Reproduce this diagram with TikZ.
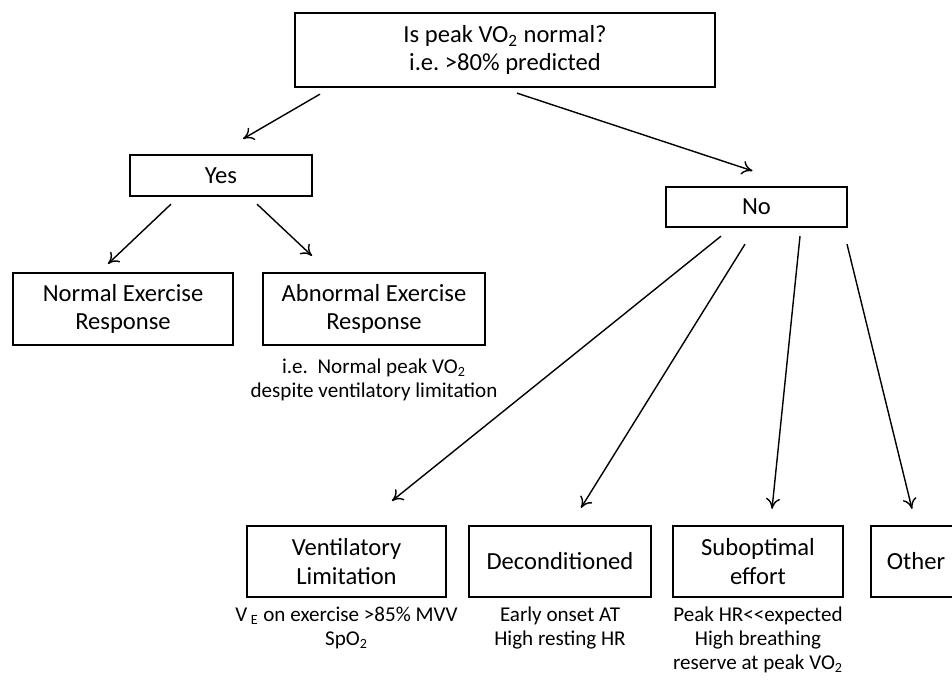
\documentclass[tikz,border=0pt]{standalone}
\usepackage{fontspec}
\setmainfont{Carlito}
\usepackage{tikz}
\usetikzlibrary{arrows.meta,positioning,calc}

\tikzset{
	box/.style={draw, line width=1.3pt, inner sep=0pt, align=center, font=\fontsize{14}{16}\selectfont},
	note/.style={inner sep=0pt, align=center, font=\fontsize{12}{13.6}\selectfont},
	arr/.style={-{To[length=6pt,width=8pt]}, line width=0.8pt}
}

\begin{document}
\begin{tikzpicture}[x=0.02cm, y=-0.02cm]
	\useasboundingbox (0,0) rectangle (952,680);
	%\draw[help lines,step=50] (0,0) grid (952,680);

	\node[box, minimum width=8.4cm, minimum height=1.48cm] (top) at (505,50) {Is peak VO\textsubscript{2} normal?\\i.e.\ >80\% predicted};

	\node[box, minimum width=3.64cm, minimum height=0.82cm] (yes) at (221,175.5) {Yes};
	\node[box, minimum width=3.62cm, minimum height=0.8cm] (no) at (756.5,207) {No};

	\node[box, minimum width=4.4cm, minimum height=1.44cm] (normal) at (123,309) {Normal Exercise\\Response};
	\node[box, minimum width=4.44cm, minimum height=1.44cm] (abnormal) at (374,309) {Abnormal Exercise\\Response};
	\node[note, below=7pt of abnormal] (abnnote) {i.e.\ \ Normal peak VO\textsubscript{2}\\despite ventilatory limitation};

	\node[box, minimum width=3.98cm, minimum height=1.42cm] (vent) at (346.5,561.5) {Ventilatory\\Limitation};
	\node[box, minimum width=3.64cm, minimum height=1.42cm] (decond) at (560,561.5) {Deconditioned};
	\node[box, minimum width=3.4cm, minimum height=1.42cm] (subopt) at (758,561.5) {Suboptimal\\effort};
	\node[box, minimum width=1.8cm, minimum height=1.42cm] (other) at (916,561.5) {Other};

	\node[note, below=5pt of vent] (ventnote) {V\,\textsubscript{E} on exercise >85\% MVV\\SpO\textsubscript{2}};
	\node[note, below=5pt of decond] (decondnote) {Early onset AT\\High resting HR};
	\node[note, below=5pt of subopt] (suboptnote) {Peak HR<{}<expected\\High breathing\\reserve at peak VO\textsubscript{2}};

	% first split
	\draw[arr] ($(top.south)+(-185,6)$) -- ($(yes.north)+(22,-15)$);
	\draw[arr] ($(top.south)+(12,5)$) -- ($(no.north)+(-4,-15)$);

	% yes branch
	\draw[arr] ($(yes.south)+(-50,7)$) -- ($(normal.north)+(-15,-8)$);
	\draw[arr] ($(yes.south)+(36,7)$) -- ($(abnormal.north)+(-62,-16)$);

	% no branch
	\draw[arr] ($(no.south)+(-35.5,8)$) -- ($(vent.north)+(45.5,-24)$);
	\draw[arr] ($(no.south)+(-11.5,16)$) -- ($(decond.north)+(21,-17)$);
	\draw[arr] ($(no.south)+(43.5,8)$) -- ($(subopt.north)+(14,-16)$);
	\draw[arr] ($(no.south)+(90.5,16)$) -- ($(other.north)+(-4,-16)$);
\end{tikzpicture}
\end{document}
